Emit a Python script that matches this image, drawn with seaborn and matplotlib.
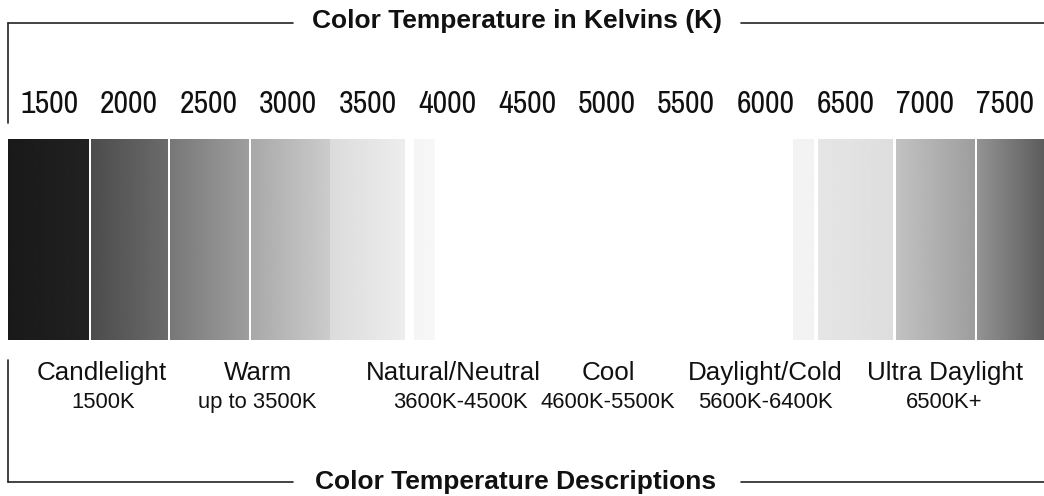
import numpy as np
import matplotlib
matplotlib.use("Agg")
import matplotlib.pyplot as plt
import seaborn as sns
from matplotlib.lines import Line2D
from matplotlib import transforms

# ---------------- data ----------------
tick_values = [1500, 2000, 2500, 3000, 3500, 4000, 4500, 5000, 5500, 6000, 6500, 7000, 7500]
tick_labels = [str(v) for v in tick_values]

segment_start_k = [1240, 1760, 2255, 2765, 3265, 3790, 6170, 6330, 6820, 7325]
segment_end_k = [1745, 2240, 2750, 3265, 3735, 3920, 6300, 6795, 7310, 7748]
gray_start = [0.10, 0.30, 0.47, 0.66, 0.86, 0.96, 0.95, 0.90, 0.76, 0.58]
gray_end = [0.13, 0.42, 0.62, 0.80, 0.93, 0.97, 0.95, 0.87, 0.62, 0.36]

desc_names = ['Candlelight', 'Warm', 'Natural/Neutral', 'Cool', 'Daylight/Cold', 'Ultra Daylight']
desc_ranges = ['1500K', 'up to 3500K', '3600K-4500K', '4600K-5500K', '5600K-6400K', '6500K+']

top_title = 'Color Temperature in Kelvins (K)'
bottom_title = 'Color Temperature Descriptions'

# ---------------- layout ----------------
desc_x_line1 = [1830, 2810, 4035, 5010, 6000, 7125]
desc_x_line2 = [1835, 2805, 4080, 5010, 6000, 7120]

W, H = 1044, 496
sns.set_theme(style="white")
plt.rcParams['font.family'] = ['Liberation Sans', 'DejaVu Sans']
narrow = ['Liberation Sans Narrow', 'Archivo Narrow', 'Liberation Sans']

def fx(px):
    return px / W

def fy(py):
    return 1 - py / H

fig = plt.figure(figsize=(W / 100, H / 100), dpi=100)
fig.patch.set_facecolor('white')
ax = fig.add_axes([fx(8), fy(340), (W - 8) / W, 201 / H])
ax.set_facecolor('white')

for x0, x1, g0, g1 in zip(segment_start_k, segment_end_k, gray_start, gray_end):
    grad = np.linspace(g0, g1, 128)[None, :]
    ax.imshow(grad, cmap='gray', vmin=0, vmax=1, extent=[x0, x1, 0, 1],
              aspect='auto', interpolation='bilinear')

ax.set_xlim(1240, 7748)
ax.set_ylim(0, 1)
ax.set_xticks(tick_values)
ax.set_xticklabels(tick_labels, family=narrow, fontsize=23, color='#111111')
ax.set_yticks([])
ax.tick_params(axis='x', top=True, labeltop=True, bottom=False, labelbottom=False,
               length=0, pad=15)
for s in ax.spines.values():
    s.set_visible(False)
ax.grid(False)

trans = transforms.blended_transform_factory(ax.transData, fig.transFigure)
for x, name in zip(desc_x_line1, desc_names):
    ax.text(x, fy(380), name, transform=trans, ha='center', va='baseline',
            fontsize=18.7, color='#111111')
for x, rng in zip(desc_x_line2, desc_ranges):
    ax.text(x, fy(408), rng, transform=trans, ha='center', va='baseline',
            fontsize=15.8, color='#111111')

fig.text(fx(517), fy(28), top_title, ha='center', va='baseline',
         fontsize=19, fontweight='bold', color='#111111')
fig.text(fx(516), fy(489), bottom_title, ha='center', va='baseline',
         fontsize=19, fontweight='bold', color='#111111')

line_kw = dict(transform=fig.transFigure, lw=1.2, color='#222222')
fig.add_artist(Line2D([fx(8), fx(293)], [fy(23), fy(23)], **line_kw))
fig.add_artist(Line2D([fx(741), fx(1044)], [fy(23), fy(23)], **line_kw))
fig.add_artist(Line2D([fx(8), fx(8)], [fy(23), fy(123)], **line_kw))
fig.add_artist(Line2D([fx(8), fx(293)], [fy(482), fy(482)], **line_kw))
fig.add_artist(Line2D([fx(741), fx(1044)], [fy(482), fy(482)], **line_kw))
fig.add_artist(Line2D([fx(8), fx(8)], [fy(360), fy(482)], **line_kw))

fig.savefig('out.png', dpi=100, facecolor='white')
